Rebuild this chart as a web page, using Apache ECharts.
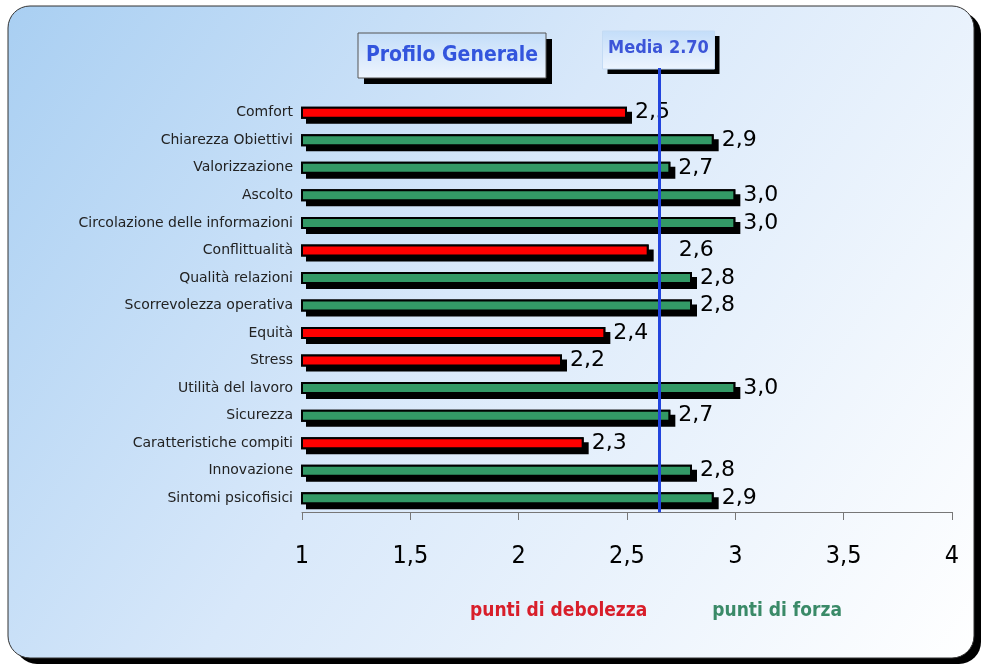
<!DOCTYPE html>
<html>
<head>
<meta charset="utf-8">
<script src="https://cdn.jsdelivr.net/npm/echarts@6/dist/echarts.min.js"></script>
<style>
  html, body { margin: 0; padding: 0; background: #fff; }
  #chart { width: 989px; height: 667px; }
</style>
</head>
<body>
<div id="chart"></div>
<script>
// dati
var categories = [
    'Comfort', 'Chiarezza Obiettivi', 'Valorizzazione', 'Ascolto',
    'Circolazione delle informazioni', 'Conflittualità', 'Qualità relazioni',
    'Scorrevolezza operativa', 'Equità', 'Stress', 'Utilità del lavoro',
    'Sicurezza', 'Caratteristiche compiti', 'Innovazione', 'Sintomi psicofisici'
];
var scores = [2.5, 2.9, 2.7, 3.0, 3.0, 2.6, 2.8, 2.8, 2.4, 2.2, 3.0, 2.7, 2.3, 2.8, 2.9];
var xTicks = [1, 1.5, 2, 2.5, 3, 3.5, 4];
var meanValue = 2.70;     // valore scritto nel riquadro
var meanLinePos = 2.65;   // dove la linea è disegnata
var seriesNames = ['punti di debolezza', 'punti di forza'];

var RED = '#ff0000';
var GREEN = '#339966';
var narrow = '"Liberation Sans Narrow", "Arial Narrow", "DejaVu Sans Condensed", sans-serif';

function comma(v, d) {
    return (d == null ? String(v) : v.toFixed(d)).replace('.', ',');
}

// ombra nera sotto ogni barra (porta anche l'etichetta)
var shadowData = scores.map(function (v, i) {
    var item = { value: v };
    if (categories[i] === 'Conflittualità') item.label = { offset: [22, 0] };
    return item;
});
// una serie per i punti deboli, una per i punti di forza
var weakData = scores.map(function (v) { return v < meanValue ? v : '-'; });
var strongData = scores.map(function (v) { return v >= meanValue ? v : '-'; });

var colorStyle = function (color) {
    return { color: color, borderColor: '#000', borderWidth: 2 };
};

var chart = echarts.init(document.getElementById('chart'));

var option = {
    animation: false,
    grid: { left: 302, right: 37, top: 99, bottom: 155 },
    legend: {
        left: 459,
        top: 597,
        itemWidth: 0,
        itemHeight: 0,
        itemGap: 59,
        selectedMode: false,
        textStyle: { fontFamily: narrow, fontWeight: 'bold', fontSize: 19 },
        data: [
            { name: seriesNames[0], icon: 'rect', textStyle: { color: '#d81e2a' } },
            { name: seriesNames[1], icon: 'rect', textStyle: { color: '#3a8a68' } }
        ]
    },
    xAxis: {
        type: 'value',
        min: xTicks[0],
        max: xTicks[xTicks.length - 1],
        interval: 0.5,
        splitLine: { show: false },
        axisLine: { show: true, lineStyle: { color: '#777', width: 1 } },
        axisTick: { show: true, length: 8, lineStyle: { color: '#777' } },
        axisLabel: {
            margin: 32,
            fontFamily: narrow,
            fontSize: 25,
            color: '#000',
            formatter: function (v) { return comma(v); }
        }
    },
    yAxis: {
        type: 'category',
        inverse: true,
        data: categories,
        axisLine: { show: false },
        axisTick: { show: false },
        axisLabel: { margin: 9, fontFamily: 'DejaVu Sans', fontSize: 14, color: '#222' }
    },
    series: [
        {
            name: 'ombra',
            type: 'bar',
            z: 1,
            barWidth: 12,
            barGap: '-100%',
            itemStyle: {
                color: '#000', borderColor: '#000', borderWidth: 2,
                shadowColor: '#000', shadowBlur: 0, shadowOffsetX: 5, shadowOffsetY: 5
            },
            label: {
                show: true,
                position: 'right',
                distance: 8,
                fontFamily: 'DejaVu Sans',
                fontSize: 22,
                color: '#000',
                formatter: function (p) { return comma(p.value, 1); }
            },
            data: shadowData
        },
        {
            name: seriesNames[0],
            type: 'bar',
            z: 2,
            barWidth: 12,
            barGap: '-100%',
            itemStyle: colorStyle(RED),
            data: weakData
        },
        {
            name: seriesNames[1],
            type: 'bar',
            z: 2,
            barWidth: 12,
            barGap: '-100%',
            itemStyle: colorStyle(GREEN),
            data: strongData
        }
    ]
};

chart.setOption(option);

// linea della media e riquadri
var lineX = chart.convertToPixel({ xAxisIndex: 0 }, meanLinePos);
var axisY = chart.convertToPixel({ yAxisIndex: 0 }, categories[categories.length - 1]) + 14;

var boxFill = new echarts.graphic.LinearGradient(0, 0, 0, 1, [
    { offset: 0, color: '#c3ddf9' },
    { offset: 1, color: '#eef5fe' }
]);

function shadowBox(x, y, w, h, off, stroke) {
    return [
        { type: 'rect', shape: { x: x + off, y: y + off, width: w, height: h }, style: { fill: '#000' } },
        { type: 'rect', shape: { x: x, y: y, width: w, height: h }, style: { fill: boxFill, stroke: stroke, lineWidth: 1 } }
    ];
}

chart.setOption({
    graphic: [
        {
            type: 'rect',
            z: -101,
            silent: true,
            shape: { x: 15, y: 12, width: 966, height: 652, r: 22 },
            style: { fill: '#000' }
        },
        {
            type: 'rect',
            z: -100,
            silent: true,
            shape: { x: 8, y: 6, width: 966, height: 652, r: 22 },
            style: {
                fill: new echarts.graphic.LinearGradient(0, 0, 1, 1, [
                    { offset: 0, color: '#a9cff2' },
                    { offset: 0.45, color: '#d8e8fa' },
                    { offset: 1, color: '#ffffff' }
                ]),
                stroke: '#333',
                lineWidth: 1
            }
        },
        {
            type: 'line',
            z: 100,
            silent: true,
            shape: { x1: lineX, y1: 68, x2: lineX, y2: axisY },
            style: { stroke: '#2244dd', lineWidth: 3 }
        },
        {
            type: 'group',
            z: 110,
            silent: true,
            children: shadowBox(358, 33, 188, 45, 6, '#555').concat([{
                type: 'text',
                x: 452, y: 56,
                style: {
                    text: 'Profilo Generale', align: 'center', verticalAlign: 'middle',
                    fontFamily: narrow, fontWeight: 'bold', fontSize: 21, fill: '#3355dd'
                }
            }])
        },
        {
            type: 'group',
            z: 110,
            silent: true,
            children: shadowBox(lineX - 57, 31, 112, 38, 5, '#c4dbf4').concat([{
                type: 'text',
                x: lineX - 1, y: 48,
                style: {
                    text: 'Media ' + meanValue.toFixed(2), align: 'center', verticalAlign: 'middle',
                    fontFamily: narrow, fontWeight: 'bold', fontSize: 18, fill: '#3c55d8'
                }
            }])
        }
    ]
});
</script>
</body>
</html>
